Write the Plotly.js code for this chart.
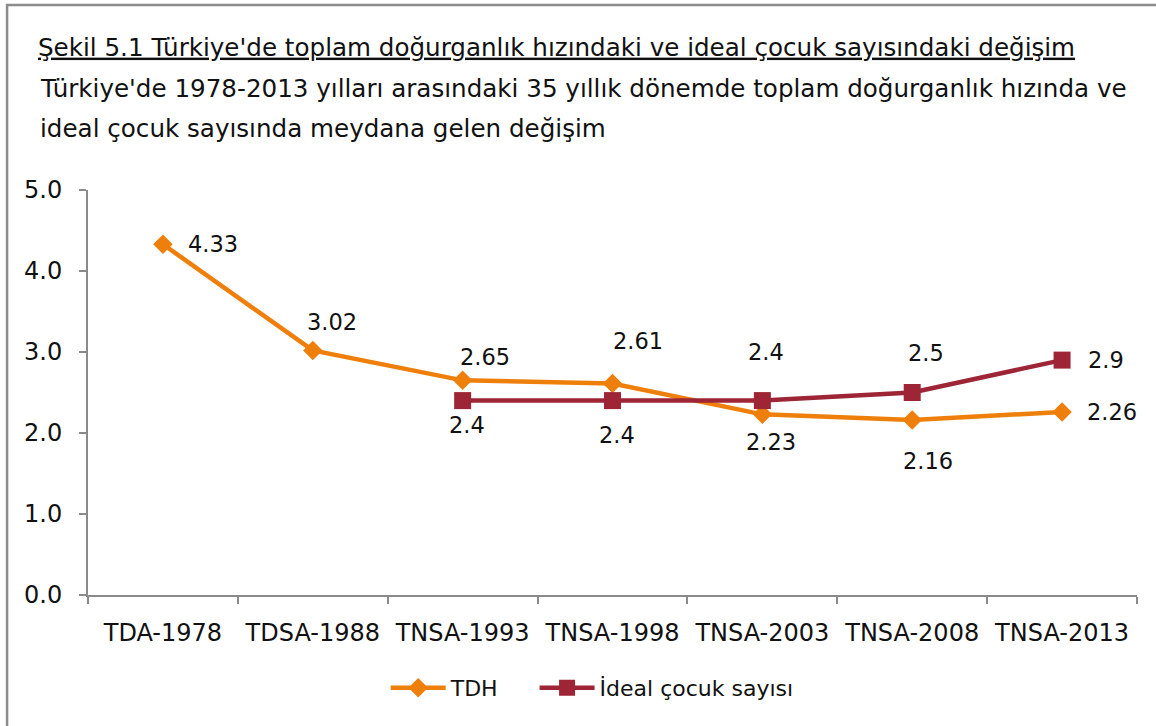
<!DOCTYPE html>
<html>
<head>
<meta charset="utf-8">
<script src="https://cdn.plot.ly/plotly-3.0.1.min.js"></script>
<style>
  html, body { margin: 0; padding: 0; background: #fff; }
  #chart { width: 1156px; height: 726px; }
</style>
</head>
<body>
<div id="chart"></div>
<script>
// ---- Data ----
const categories = ["TDA-1978", "TDSA-1988", "TNSA-1993", "TNSA-1998", "TNSA-2003", "TNSA-2008", "TNSA-2013"];
const tdhValues = [4.33, 3.02, 2.65, 2.61, 2.23, 2.16, 2.26];
const idealValues = [null, null, 2.4, 2.4, 2.4, 2.5, 2.9];
const seriesNames = ["TDH", "İdeal çocuk sayısı"];
const titleLines = [
  "Şekil 5.1 Türkiye'de toplam doğurganlık hızındaki ve ideal çocuk sayısındaki değişim",
  "Türkiye'de 1978-2013 yılları arasındaki 35 yıllık dönemde toplam doğurganlık hızında ve",
  "ideal çocuk sayısında meydana gelen değişim"
];

// ---- Styles (label offsets in px, not data) ----
const FONT = "'DejaVu Sans', sans-serif";
const orange = "#EF7F0B";
const darkRed = "#9D2536";
const tdhOffsets = [[50, 0], [19, 28], [22, 23], [25, 43], [9, -28], [16, -41], [50, 0]];
const idealOffsets = [null, null, [4, -24], [4, -34], [4, 49], [14, 40], [44, 0]];

const traces = [
  {
    x: categories, y: tdhValues, name: seriesNames[0], type: "scatter", mode: "lines+markers",
    line: { color: orange, width: 4.5 },
    marker: { symbol: "diamond", size: 15, color: orange },
    legend: "legend"
  },
  {
    x: categories, y: idealValues, name: seriesNames[1], type: "scatter", mode: "lines+markers",
    line: { color: darkRed, width: 4.5 },
    marker: { symbol: "square", size: 17, color: darkRed },
    legend: "legend2"
  }
];

const annotations = [];
function addLabels(vals, offs) {
  vals.forEach((v, i) => {
    if (v === null) return;
    annotations.push({
      x: categories[i], y: v, xref: "x", yref: "y",
      text: String(v), showarrow: false,
      xshift: offs[i][0], yshift: offs[i][1],
      font: { family: FONT, size: 22.5, color: "#111" }
    });
  });
}
addLabels(tdhValues, tdhOffsets);
addLabels(idealValues, idealOffsets);

// subtitle lines
[1, 2].forEach((k, j) => {
  annotations.push({
    xref: "paper", yref: "paper",
    x: (38 - 88) / 1050, y: (595 - [88, 128][j]) / 405,
    xanchor: "left", yanchor: "middle",
    text: titleLines[k], showarrow: false,
    font: { family: FONT, size: 24.6, color: "#111" }
  });
});

const legendCommon = {
  orientation: "h", xanchor: "left", xref: "paper",
  y: 1 - 688 / 726, yanchor: "middle", yref: "container",
  font: { family: FONT, size: 22, color: "#111" },
  itemwidth: 55, bgcolor: "rgba(0,0,0,0)"
};

const layout = {
  width: 1156, height: 726,
  paper_bgcolor: "#fff", plot_bgcolor: "#fff",
  margin: { l: 88, r: 19, t: 190, b: 131 },
  font: { family: FONT, size: 22, color: "#111" },
  title: {
    text: "<u>" + titleLines[0] + "</u>",
    x: 38 / 1156, xanchor: "left", xref: "container",
    y: 1 - 47 / 726, yanchor: "middle", yref: "container",
    font: { family: FONT, size: 24.6, color: "#111" }
  },
  xaxis: {
    type: "category",
    showgrid: false, zeroline: false,
    showline: true, linecolor: "#8a8a8a", linewidth: 2,
    ticks: "outside", tickson: "boundaries", ticklen: 7, tickcolor: "#8a8a8a", tickwidth: 2,
    ticklabelstandoff: 15,
    tickfont: { family: FONT, size: 24, color: "#111" },
    range: [-0.5, 6.5]
  },
  yaxis: {
    range: [0, 5], dtick: 1, tick0: 0, tickformat: ".1f",
    showgrid: false, zeroline: false,
    showline: true, linecolor: "#8a8a8a", linewidth: 2,
    ticks: "outside", ticklen: 7, tickcolor: "#8a8a8a", tickwidth: 2,
    ticklabelstandoff: 12,
    tickfont: { family: FONT, size: 24, color: "#111" }
  },
  showlegend: true,
  legend: Object.assign({}, legendCommon, { x: (386 - 88) / 1050 }),
  legend2: Object.assign({}, legendCommon, { x: (535 - 88) / 1050 }),
  shapes: [{
    type: "rect", xref: "paper", yref: "paper",
    x0: (7 - 88) / 1050, x1: (1170 - 88) / 1050,
    y0: (595 - 740) / 405, y1: (595 - 5) / 405,
    line: { color: "#8c8c8c", width: 2.5 }, fillcolor: "rgba(0,0,0,0)", layer: "below"
  }],
  annotations: annotations
};

Plotly.newPlot("chart", traces, layout, { displayModeBar: false, staticPlot: true });
</script>
</body>
</html>
